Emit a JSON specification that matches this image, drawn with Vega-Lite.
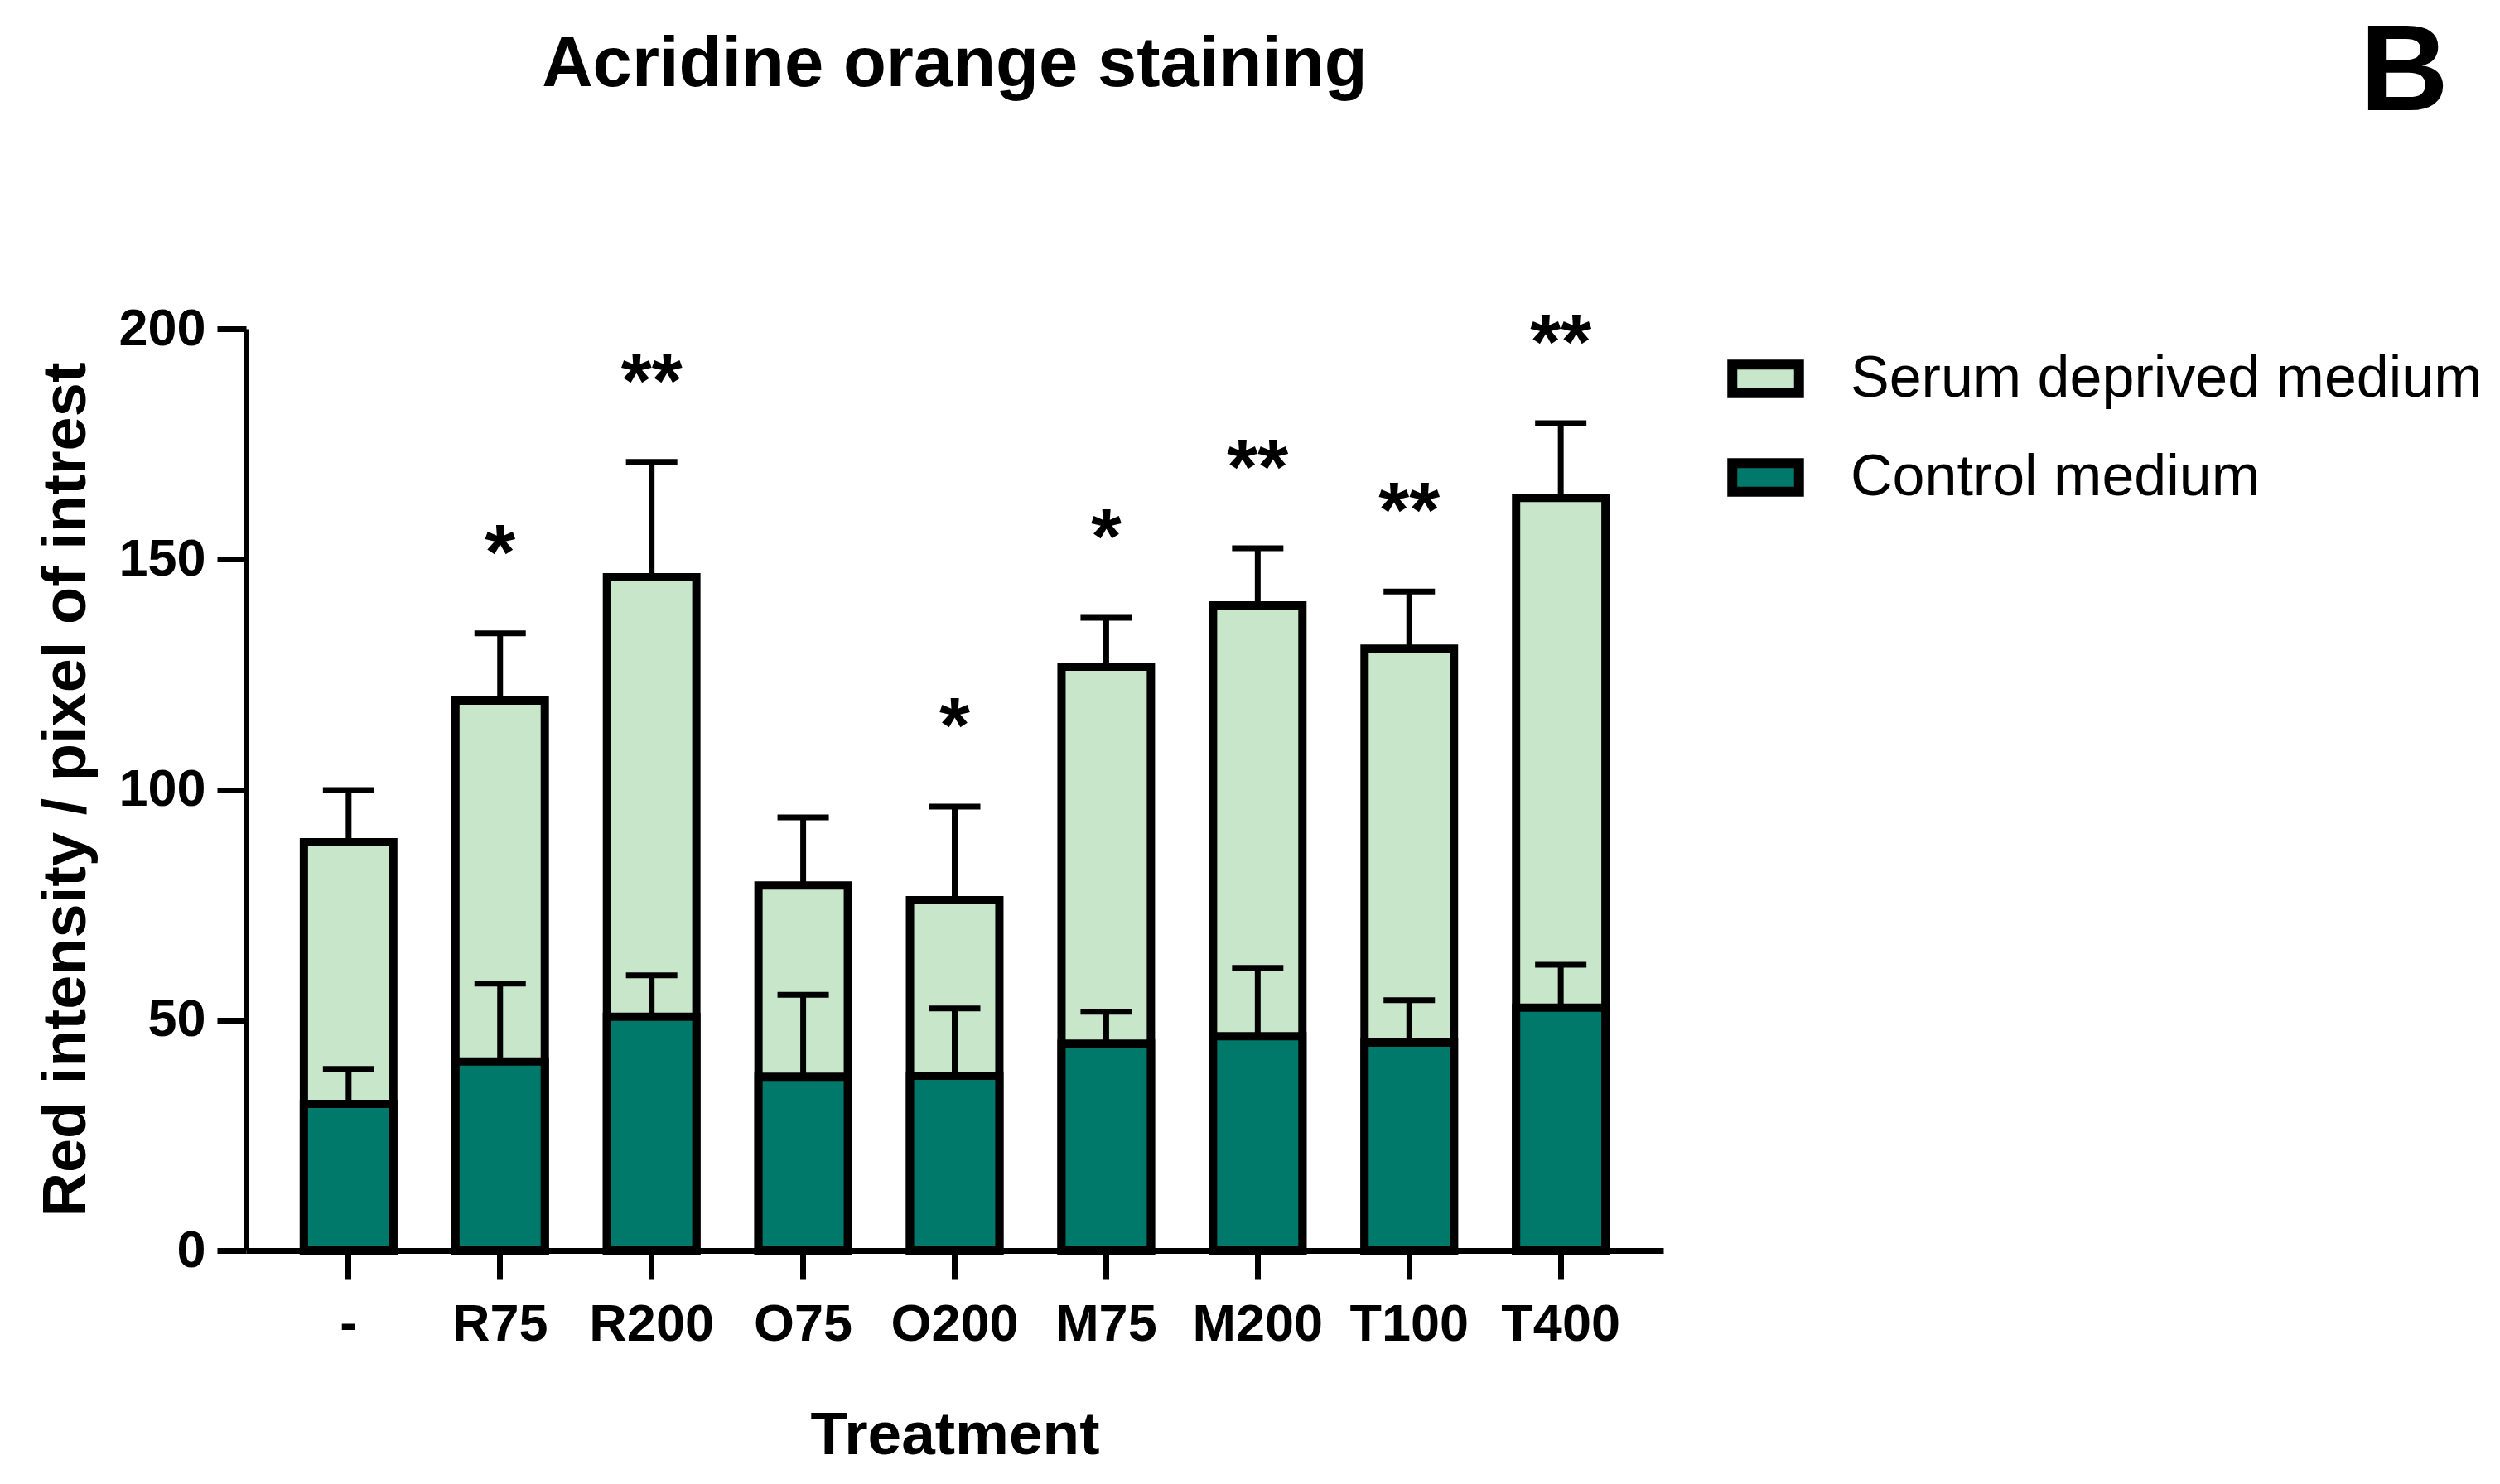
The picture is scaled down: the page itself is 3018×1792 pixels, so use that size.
{
  "$schema": "https://vega.github.io/schema/vega-lite/v6.json",
  "width": 1711,
  "height": 1113,
  "autosize": "none",
  "padding": {"left": 297, "top": 397, "right": 1010, "bottom": 282},
  "background": "white",
  "title": {
    "text": "Acridine orange staining",
    "font": "Liberation Sans",
    "fontSize": 85,
    "fontWeight": "bold",
    "color": "black",
    "anchor": "middle",
    "frame": "group",
    "baseline": "alphabetic",
    "offset": -173
  },
  "data": {
    "values": [
      {"treatment": "-", "medium": "Serum deprived medium", "value": 88.6, "upper": 99.9, "sig": ""},
      {"treatment": "R75", "medium": "Serum deprived medium", "value": 119.3, "upper": 133.9, "sig": "*"},
      {"treatment": "R200", "medium": "Serum deprived medium", "value": 146.1, "upper": 171.1, "sig": "**"},
      {"treatment": "O75", "medium": "Serum deprived medium", "value": 79.2, "upper": 94.0, "sig": ""},
      {"treatment": "O200", "medium": "Serum deprived medium", "value": 76.0, "upper": 96.3, "sig": "*"},
      {"treatment": "M75", "medium": "Serum deprived medium", "value": 126.7, "upper": 137.3, "sig": "*"},
      {"treatment": "M200", "medium": "Serum deprived medium", "value": 140.0, "upper": 152.4, "sig": "**"},
      {"treatment": "T100", "medium": "Serum deprived medium", "value": 130.6, "upper": 143.0, "sig": "**"},
      {"treatment": "T400", "medium": "Serum deprived medium", "value": 163.3, "upper": 179.5, "sig": "**"},
      {"treatment": "-", "medium": "Control medium", "value": 31.8, "upper": 39.4, "sig": ""},
      {"treatment": "R75", "medium": "Control medium", "value": 41.0, "upper": 57.9, "sig": ""},
      {"treatment": "R200", "medium": "Control medium", "value": 50.7, "upper": 59.7, "sig": ""},
      {"treatment": "O75", "medium": "Control medium", "value": 37.7, "upper": 55.5, "sig": ""},
      {"treatment": "O200", "medium": "Control medium", "value": 37.9, "upper": 52.5, "sig": ""},
      {"treatment": "M75", "medium": "Control medium", "value": 44.9, "upper": 51.8, "sig": ""},
      {"treatment": "M200", "medium": "Control medium", "value": 46.5, "upper": 61.3, "sig": ""},
      {"treatment": "T100", "medium": "Control medium", "value": 45.1, "upper": 54.3, "sig": ""},
      {"treatment": "T400", "medium": "Control medium", "value": 52.7, "upper": 62.0, "sig": ""}
    ]
  },
  "encoding": {
    "x": {
      "field": "treatment",
      "type": "nominal",
      "sort": null,
      "scale": {"paddingInner": 0.41, "paddingOuter": 0.382},
      "axis": {
        "title": "Treatment",
        "labelAngle": 0,
        "labelFontSize": 63,
        "labelFontWeight": "bold",
        "labelColor": "black",
        "labelBaseline": "alphabetic",
        "labelPadding": 73,
        "domainColor": "black",
        "domainWidth": 7,
        "tickColor": "black",
        "tickWidth": 7,
        "tickSize": 35,
        "titleFontSize": 73,
        "titleFontWeight": "bold",
        "titleColor": "black",
        "titleBaseline": "alphabetic",
        "titleY": 245,
        "grid": false
      }
    },
    "y": {
      "field": "value",
      "type": "quantitative",
      "stack": null,
      "scale": {"domain": [0, 200], "nice": false},
      "axis": {
        "title": "Red intensity / pixel of intrest",
        "values": [0, 50, 100, 150, 200],
        "labelFontSize": 63,
        "labelFontWeight": "bold",
        "labelColor": "black",
        "labelPadding": 14,
        "domainColor": "black",
        "domainWidth": 7,
        "tickColor": "black",
        "tickWidth": 7,
        "tickSize": 35,
        "titleFontSize": 74,
        "titleFontWeight": "bold",
        "titleColor": "black",
        "titleBaseline": "alphabetic",
        "titleX": -195,
        "titleY": 556,
        "grid": false
      }
    }
  },
  "layer": [
    {
      "mark": {"type": "bar", "stroke": "black", "strokeWidth": 10, "strokeJoin": "miter", "opacity": 1},
      "encoding": {
        "color": {
          "field": "medium",
          "type": "nominal",
          "scale": {"domain": ["Serum deprived medium", "Control medium"], "range": ["#C8E6C9", "#00796B"]},
          "legend": {
            "orient": "none",
            "legendX": 1788,
            "legendY": -381,
            "title": "B\u00a0\u200b",
            "titleFont": "Liberation Sans",
            "titleFontSize": 148,
            "titleFontWeight": "bold",
            "titleColor": "black",
            "titleAnchor": "end",
            "titlePadding": 247,
            "labelFont": "Liberation Sans",
            "labelFontSize": 70,
            "labelFontWeight": "normal",
            "labelColor": "black",
            "labelLimit": 0,
            "labelOffset": 56,
            "rowPadding": 31,
            "padding": 0,
            "symbolType": "M-1,-0.43L1,-0.43L1,0.43L-1,0.43Z",
            "symbolSize": 6480,
            "symbolStrokeWidth": 12,
            "symbolStrokeColor": "black",
            "symbolOpacity": 1
          }
        }
      }
    },
    {
      "mark": {"type": "rule", "color": "black", "strokeWidth": 7},
      "encoding": {"y2": {"field": "upper"}}
    },
    {
      "mark": {"type": "tick", "color": "black", "thickness": 7, "size": 62, "opacity": 1},
      "encoding": {"y": {"field": "upper", "type": "quantitative"}}
    },
    {
      "transform": [{"filter": "datum.sig != ''"}],
      "mark": {"type": "text", "color": "black", "font": "Liberation Sans", "fontSize": 95, "fontWeight": "bold", "baseline": "alphabetic", "align": "center", "dy": -66},
      "encoding": {
        "y": {"field": "upper", "type": "quantitative"},
        "text": {"field": "sig"}
      }
    }
  ],
  "config": {
    "view": {"stroke": null},
    "font": "Liberation Sans"
  }
}
